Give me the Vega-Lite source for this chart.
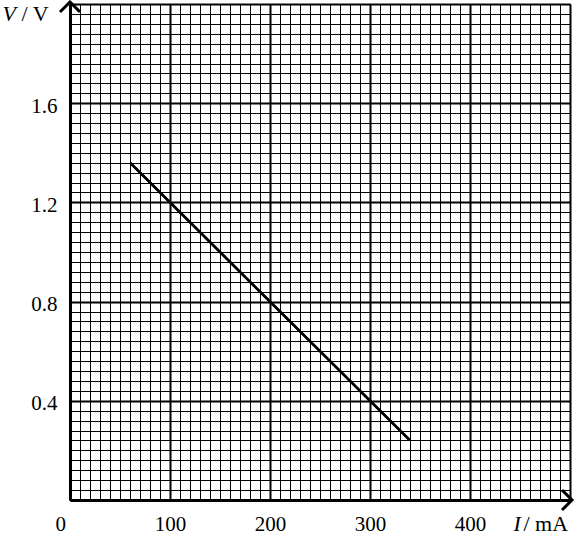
{
  "$schema": "https://vega.github.io/schema/vega-lite/v6.json",
  "width": 500,
  "height": 496,
  "autosize": {"type": "none"},
  "padding": {"left": 70, "top": 4, "right": 11, "bottom": 37},
  "background": "white",
  "config": {
    "view": {"stroke": null},
    "axis": {
      "labelFont": "Liberation Serif",
      "labelFontSize": 21,
      "labelColor": "black",
      "titleFont": "Liberation Serif",
      "titleFontSize": 22,
      "titleFontWeight": "normal",
      "titleColor": "black",
      "gridColor": "black",
      "gridOpacity": 1,
      "domainColor": "black",
      "ticks": false,
      "tickSize": 0
    }
  },
  "datasets": {
    "line": [{"I": 60, "V": 1.36}, {"I": 340, "V": 0.24}],
    "arrows": [{"axis": "V", "I": 0, "V": 2}, {"axis": "I", "I": 500, "V": 0}]
  },
  "resolve": {"axis": {"x": "independent", "y": "independent"}},
  "layer": [
    {
      "data": {"name": "arrows"},
      "mark": {"type": "point", "filled": false, "stroke": "black", "strokeWidth": 3, "size": 400, "opacity": 1, "clip": false},
      "encoding": {
        "x": {"field": "I", "type": "quantitative", "scale": {"domain": [0, 500], "nice": false},
          "axis": {"orient": "bottom", "values": [0,10,20,30,40,50,60,70,80,90,100,110,120,130,140,150,160,170,180,190,200,210,220,230,240,250,260,270,280,290,300,310,320,330,340,350,360,370,380,390,400,410,420,430,440,450,460,470,480,490,500],
            "grid": true, "gridWidth": 1, "labels": false, "domain": false, "title": null}},
        "y": {"field": "V", "type": "quantitative", "scale": {"domain": [0, 2], "nice": false},
          "axis": {"orient": "left", "values": [0,0.04,0.08,0.12,0.16,0.2,0.24,0.28,0.32,0.36,0.4,0.44,0.48,0.52,0.56,0.6,0.64,0.68,0.72,0.76,0.8,0.84,0.88,0.92,0.96,1,1.04,1.08,1.12,1.16,1.2,1.24,1.28,1.32,1.36,1.4,1.44,1.48,1.52,1.56,1.6,1.64,1.68,1.72,1.76,1.8,1.84,1.88,1.92,1.96,2],
            "grid": true, "gridWidth": 1, "labels": false, "domain": false, "title": null}},
        "shape": {"field": "axis", "type": "nominal", "scale": {"domain": ["V", "I"], "range": ["M-1,0.8L0,-0.2L1,0.8", "M-0.8,-1L0.2,0L-0.8,1"]}, "legend": null}
      }
    },
    {
      "data": {"name": "line"},
      "mark": {"type": "line", "color": "black", "strokeWidth": 2.5},
      "encoding": {
        "x": {"field": "I", "type": "quantitative",
          "axis": {"orient": "bottom", "values": [0, 100, 200, 300, 400, 500], "format": "d",
            "labelExpr": "datum.value == 500 ? '' : datum.label",
            "labelPadding": 13,
            "labelOffset": {"condition": {"test": "datum.value == 0", "value": -15}, "value": 0},
            "grid": true, "gridWidth": 2, "domain": true, "domainWidth": 3,
            "title": "I", "titleFontStyle": "italic", "titleAlign": "left", "titleBaseline": "alphabetic", "titleX": 443, "titleY": 30}},
        "y": {"field": "V", "type": "quantitative",
          "axis": {"orient": "left", "values": [0, 0.4, 0.8, 1.2, 1.6, 2], "format": ".1f",
            "labelExpr": "(datum.value == 0 || datum.value == 2) ? '' : datum.label",
            "labelPadding": 13, "labelOffset": 3,
            "grid": true, "gridWidth": 2, "domain": true, "domainWidth": 3,
            "title": "V", "titleFontStyle": "italic", "titleAngle": 0, "titleAlign": "left", "titleBaseline": "alphabetic", "titleX": -68, "titleY": 16}}
      }
    },
    {
      "data": {"name": "line"},
      "mark": {"type": "line", "color": "black", "strokeWidth": 2.5},
      "encoding": {
        "x": {"field": "I", "type": "quantitative",
          "axis": {"orient": "bottom", "labels": false, "grid": false, "domain": false,
            "title": "/ mA", "titleFontStyle": "normal", "titleAlign": "left", "titleBaseline": "alphabetic", "titleX": 453, "titleY": 30}},
        "y": {"field": "V", "type": "quantitative",
          "axis": {"orient": "left", "labels": false, "grid": false, "domain": false,
            "title": "/ V", "titleFontStyle": "normal", "titleAngle": 0, "titleAlign": "left", "titleBaseline": "alphabetic", "titleX": -49, "titleY": 16}}
      }
    }
  ]
}
